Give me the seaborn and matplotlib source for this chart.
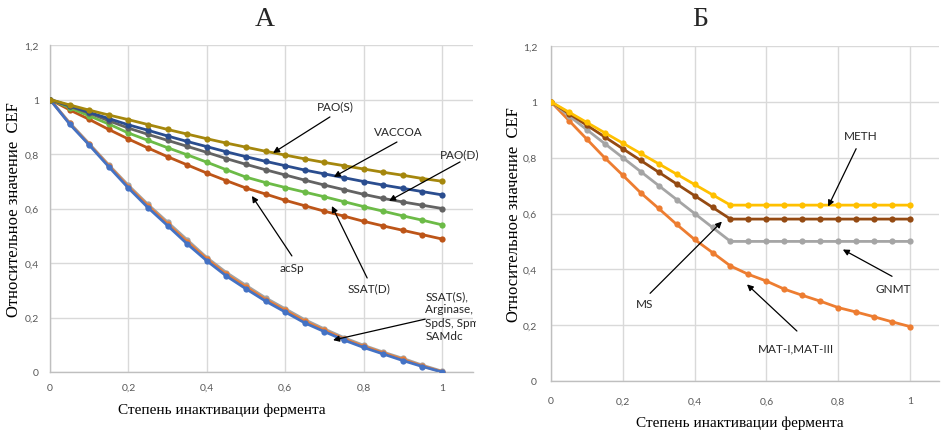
import numpy as np
import pandas as pd
import seaborn as sns
import matplotlib.pyplot as plt
from matplotlib.ticker import FuncFormatter
from matplotlib.transforms import Bbox, TransformedBbox

# inactivation degree (shared x for both panels)
x_vals = [0, 0.05, 0.1, 0.15, 0.2, 0.25, 0.3, 0.35, 0.4, 0.45, 0.5,
          0.55, 0.6, 0.65, 0.7, 0.75, 0.8, 0.85, 0.9, 0.95, 1]

# panel A
pao_s = [1, 0.98, 0.961, 0.943, 0.926, 0.908, 0.89, 0.873, 0.856, 0.84, 0.825,
         0.81, 0.796, 0.782, 0.769, 0.757, 0.745, 0.733, 0.722, 0.71, 0.70]
vaccoa = [1, 0.977, 0.953, 0.93, 0.907, 0.887, 0.866, 0.846, 0.827, 0.808, 0.79,
          0.773, 0.757, 0.741, 0.727, 0.713, 0.699, 0.686, 0.674, 0.662, 0.65]
pao_d = [1, 0.975, 0.95, 0.922, 0.895, 0.872, 0.85, 0.828, 0.806, 0.783, 0.762,
         0.742, 0.723, 0.704, 0.686, 0.669, 0.652, 0.637, 0.624, 0.612, 0.60]
ssat_d = [1, 0.97, 0.94, 0.91, 0.877, 0.85, 0.823, 0.797, 0.77, 0.742, 0.715,
          0.695, 0.677, 0.66, 0.643, 0.625, 0.607, 0.59, 0.573, 0.557, 0.54]
acsp = [1, 0.962, 0.927, 0.89, 0.855, 0.822, 0.79, 0.76, 0.73, 0.702, 0.675,
        0.653, 0.63, 0.61, 0.59, 0.572, 0.553, 0.536, 0.52, 0.504, 0.488]
low_gray = [1, 0.915, 0.838, 0.76, 0.685, 0.615, 0.55, 0.485, 0.42, 0.365, 0.318,
            0.272, 0.232, 0.192, 0.158, 0.126, 0.098, 0.073, 0.05, 0.025, 0.003]
low_orange = [1, 0.912, 0.835, 0.757, 0.68, 0.61, 0.543, 0.478, 0.415, 0.358, 0.312,
              0.266, 0.226, 0.186, 0.153, 0.121, 0.094, 0.07, 0.046, 0.022, 0.001]
low_blue = [1, 0.91, 0.833, 0.753, 0.675, 0.603, 0.537, 0.47, 0.408, 0.352, 0.305,
            0.26, 0.22, 0.18, 0.148, 0.117, 0.09, 0.066, 0.042, 0.02, 0]

# panel B
meth = [1, 0.963, 0.926, 0.889, 0.852, 0.815, 0.778, 0.741, 0.704, 0.667, 0.63,
        0.63, 0.63, 0.63, 0.63, 0.63, 0.63, 0.63, 0.63, 0.63, 0.63]
ms = [1, 0.958, 0.916, 0.874, 0.832, 0.79, 0.748, 0.706, 0.664, 0.622, 0.58,
      0.58, 0.58, 0.58, 0.58, 0.58, 0.58, 0.58, 0.58, 0.58, 0.58]
gnmt = [1, 0.95, 0.90, 0.85, 0.80, 0.75, 0.70, 0.65, 0.60, 0.55, 0.50,
        0.50, 0.50, 0.50, 0.50, 0.50, 0.50, 0.50, 0.50, 0.50, 0.50]
mat = [1, 0.933, 0.866, 0.799, 0.737, 0.674, 0.618, 0.561, 0.507, 0.46, 0.412,
       0.382, 0.358, 0.329, 0.307, 0.286, 0.263, 0.247, 0.23, 0.212, 0.195]

tick_vals = [0, 0.2, 0.4, 0.6, 0.8, 1, 1.2]

series_a = {'low_gray': low_gray, 'low_orange': low_orange, 'low_blue': low_blue,
            'acSp': acsp, 'SSAT(D)': ssat_d, 'PAO(D)': pao_d,
            'VACCOA': vaccoa, 'PAO(S)': pao_s}
colors_a = {'low_gray': '#A5A5A5', 'low_orange': '#ED7D31', 'low_blue': '#4472C4',
            'acSp': '#BD5518', 'SSAT(D)': '#6CBB47', 'PAO(D)': '#636363',
            'VACCOA': '#2A4D8F', 'PAO(S)': '#A5870D'}
series_b = {'MAT': mat, 'GNMT': gnmt, 'MS': ms, 'METH': meth}
colors_b = {'MAT': '#ED7D31', 'GNMT': '#A5A5A5', 'MS': '#944A12', 'METH': '#FFC000'}


def long_df(series):
    rows = []
    for name, vals in series.items():
        for xv, yv in zip(x_vals, vals):
            rows.append((name, xv, yv))
    return pd.DataFrame(rows, columns=['series', 'x', 'y'])


sns.set_style('white')
plt.rcParams['font.family'] = ['Lato', 'DejaVu Sans']

fig = plt.figure(figsize=(9.49, 4.35), dpi=100)
axA = fig.add_axes([50 / 949, 1 - 373 / 435, 423.4 / 949, 327 / 435])
axB = fig.add_axes([551 / 949, 1 - 382 / 435, 387.7 / 949, 335 / 435])

comma = FuncFormatter(lambda v, p: ('%g' % round(v, 1)).replace('.', ','))

for ax, series, colors in [(axA, series_a, colors_a), (axB, series_b, colors_b)]:
    df = long_df(series)
    sns.lineplot(data=df, x='x', y='y', hue='series', hue_order=list(series),
                 palette=colors, marker='o', markersize=4.5, markeredgewidth=0,
                 linewidth=2, legend=False, sort=False, ax=ax, zorder=3)
    ax.set_xlim(0, 1.08)
    ax.set_ylim(0, 1.2)
    ax.set_xticks(tick_vals[:-1])
    ax.set_yticks(tick_vals)
    ax.xaxis.set_major_formatter(comma)
    ax.yaxis.set_major_formatter(comma)
    ax.grid(True, color='#D9D9D9', linewidth=1)
    ax.set_axisbelow(True)
    for s in ['top', 'right']:
        ax.spines[s].set_visible(False)
    for s in ['left', 'bottom']:
        ax.spines[s].set_color('#BFBFBF')
        ax.spines[s].set_linewidth(1)
    ax.tick_params(length=0, labelsize=7.5, labelcolor='#595959')
    ax.set_xlabel('Степень инактивации фермента', family='Liberation Serif',
                  fontsize=11, color='black')
    ax.set_ylabel('Относительное значение  CEF', family='Liberation Serif',
                  fontsize=12, color='black')

axA.tick_params(axis='x', pad=8)
axA.tick_params(axis='y', pad=8)
axB.tick_params(axis='x', pad=11)
axB.tick_params(axis='y', pad=10)
axA.xaxis.set_label_coords(0.406, -0.092)
axA.yaxis.set_label_coords(-0.066, 0.5)
axB.xaxis.set_label_coords(0.487, -0.104)
axB.yaxis.set_label_coords(-0.075, 0.5)

fig.text(265 / 949, 1 - 20 / 435, 'А', family='Liberation Serif', fontsize=20,
         ha='center', va='center')
fig.text(700 / 949, 1 - 20 / 435, 'Б', family='Liberation Serif', fontsize=20,
         ha='center', va='center')

arrow = dict(arrowstyle='-|>', color='black', lw=0.9, mutation_scale=9,
             shrinkA=0, shrinkB=0)
txt = dict(fontsize=8.5, color='#262626')

# panel A labels: (text, text pos, arrow tail, arrow head)
notes_a = [('PAO(S)', (0.727, 0.976), (0.714, 0.936), (0.569, 0.804)),
           ('VACCOA', (0.888, 0.884), (0.885, 0.844), (0.724, 0.716)),
           ('acSp', (0.617, 0.385), (0.617, 0.426), (0.515, 0.646)),
           ('SSAT(D)', (0.814, 0.308), (0.809, 0.345), (0.719, 0.609))]
for t, tp, tail, head in notes_a:
    axA.annotate('', xy=head, xytext=tail, arrowprops=arrow)
    axA.text(tp[0], tp[1], t, ha='center', va='center', **txt)

axA.annotate('', xy=(0.865, 0.628), xytext=(1.046, 0.771), arrowprops=arrow)
axA.text(0.995, 0.80, 'PAO(D)', ha='left', va='center', clip_on=False, **txt)

axA.annotate('', xy=(0.722, 0.117), xytext=(0.957, 0.194), arrowprops=arrow)
ssat_txt = axA.text(0.957, 0.30, 'SSAT(S),\nArginase, CDO\nSpdS, SpmS,\nSAMdc',
                    ha='left', va='top', linespacing=1.25, **txt)
ssat_txt.set_clip_box(TransformedBbox(Bbox([[0, 0], [476 / 949, 1]]), fig.transFigure))
ssat_txt.set_clip_on(True)

notes_b = [('METH', (0.864, 0.879), (0.850, 0.832), (0.772, 0.625)),
           ('MS', (0.262, 0.279), (0.276, 0.314), (0.476, 0.571)),
           ('GNMT', (0.953, 0.332), (0.950, 0.375), (0.813, 0.471)),
           ('MAT-I,MAT-III', (0.682, 0.118), (0.685, 0.179), (0.546, 0.346))]
for t, tp, tail, head in notes_b:
    axB.annotate('', xy=head, xytext=tail, arrowprops=arrow)
    axB.text(tp[0], tp[1], t, ha='center', va='center', **txt)

fig.savefig('out.png', dpi=100)
